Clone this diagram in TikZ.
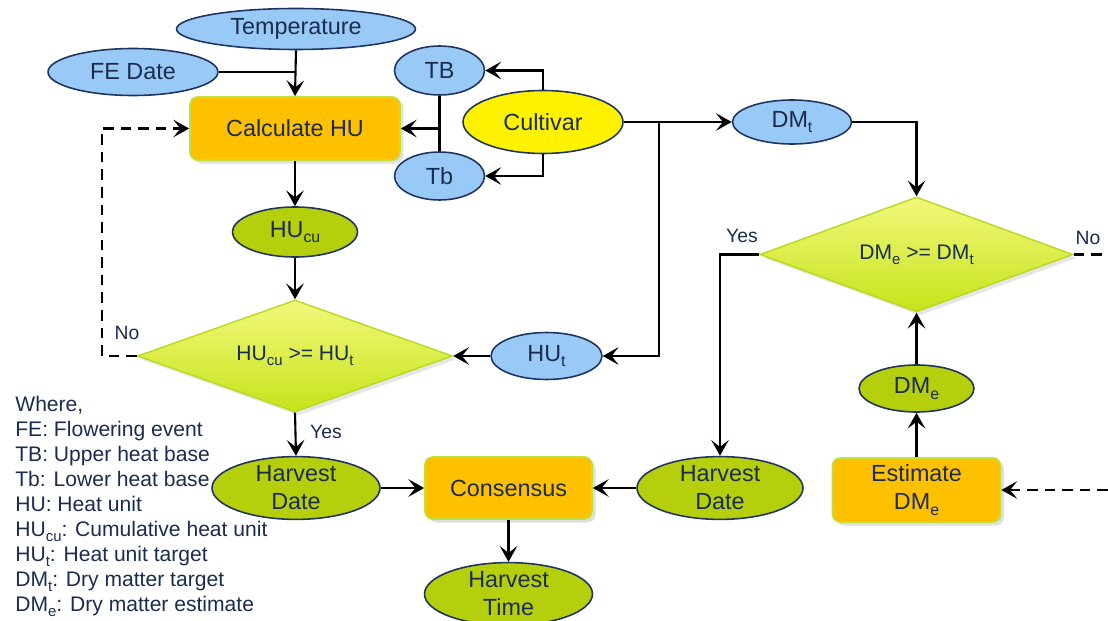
\documentclass[tikz,border=0pt]{standalone}
\usepackage{fontspec}
\setmainfont{Liberation Sans}
\usetikzlibrary{shapes.geometric,arrows.meta,shadows}
\definecolor{txt}{HTML}{1B2C4E}
\definecolor{bluefill}{HTML}{99C9F7}
\definecolor{navy}{HTML}{1F3560}
\definecolor{greenfill}{HTML}{B5CF0C}
\definecolor{orangefill}{HTML}{FFC000}
\definecolor{lgreen}{HTML}{C4DE3C}
\definecolor{dtop}{HTML}{F2F87C}
\definecolor{dbot}{HTML}{C6E31A}
\definecolor{dborder}{HTML}{B9D81E}
\newcommand{\lowsub}[1]{\raisebox{-0.45ex}{\fontsize{9}{9}\selectfont #1}}
\newcommand{\lowsubs}[1]{\raisebox{-0.45ex}{\fontsize{8.5}{9}\selectfont #1}}
\tikzset{
  base/.style={font=\fontsize{13.3}{16}\selectfont, text=txt, inner sep=0pt, align=center},
  blueell/.style={base, ellipse, draw=navy, line width=0.9pt, fill=bluefill},
  greenell/.style={base, ellipse, draw=navy, line width=0.9pt, fill=greenfill},
  yellowell/.style={base, ellipse, draw=navy, line width=0.9pt, fill=yellow},
  procbox/.style={base, rectangle, rounded corners=4.5pt, draw=lgreen, line width=1pt, fill=orangefill,
     drop shadow={shadow xshift=2pt, shadow yshift=-2pt, opacity=0.25}},
  decide/.style={base, font=\fontsize{12}{13}\selectfont, diamond, aspect=2.8, draw=dborder, line width=0.8pt, top color=dtop, bottom color=dbot,
     drop shadow={shadow xshift=2pt, shadow yshift=-2pt, opacity=0.2}},
  conn/.style={line width=1.2pt, black},
  arr/.style={conn, -{Stealth[length=9pt, width=10pt, inset=4pt]}},
  dashline/.style={line width=1.2pt, black, dash pattern=on 6pt off 4pt},
  lbl/.style={font=\fontsize{11}{12}\selectfont, text=txt, inner sep=0pt}
}
\begin{document}
\begin{tikzpicture}[x=0.02cm, y=-0.02cm]
\useasboundingbox (0,0) rectangle (1108,621);

% nodes
\node[blueell, minimum width=4.78cm, minimum height=0.82cm] (temp) at (296,29) {Temperature};
\node[blueell, minimum width=3.4cm, minimum height=0.94cm] (fe) at (133,72) {FE Date};
\node[procbox, minimum width=4.2cm, minimum height=1.26cm] (calc) at (295,128.5) {Calculate HU};
\node[blueell, minimum width=1.8cm, minimum height=0.98cm] (TB) at (439.5,70.5) {TB};
\node[blueell, minimum width=1.8cm, minimum height=0.96cm] (Tb) at (439.5,176) {Tb};
\node[yellowell, minimum width=3.2cm, minimum height=1.26cm] (cult) at (543,122) {Cultivar};
\node[blueell, minimum width=2.38cm, minimum height=0.88cm] (dmt) at (792,122) {DM\lowsub{t}};
\node[greenell, minimum width=2.5cm, minimum height=1.0cm] (hucu) at (295,232) {HU\lowsub{cu}};
\node[decide, minimum width=6.3cm, minimum height=2.24cm] (dhu) at (295,356) {HU\lowsubs{cu} >= HU\lowsubs{t}};
\node[blueell, minimum width=2.22cm, minimum height=0.94cm] (hut) at (546.5,356) {HU\lowsub{t}};
\node[decide, minimum width=6.26cm, minimum height=2.3cm] (ddm) at (916.5,254.5) {DM\lowsubs{e} >= DM\lowsubs{t}};
\node[greenell, minimum width=3.36cm, minimum height=1.22cm] (hd1) at (296,488) {Harvest\\Date};
\node[procbox, minimum width=3.34cm, minimum height=1.24cm] (cons) at (508.5,488) {Consensus};
\node[greenell, minimum width=3.32cm, minimum height=1.22cm] (hd2) at (720,488) {Harvest\\Date};
\node[procbox, minimum width=3.36cm, minimum height=1.28cm] (est) at (916.5,490) {Estimate\\DM\lowsub{e}};
\node[greenell, minimum width=2.3cm, minimum height=0.94cm] (dme) at (916.5,388.5) {DM\lowsub{e}};
\node[greenell, minimum width=3.36cm, minimum height=1.24cm] (ht) at (508.5,594) {Harvest\\Time};

% helper coordinates
\coordinate (j1) at (439.5,128.5);
\coordinate (j2) at (659,122);
\coordinate (noL) at (102,356);
\coordinate (noR) at (1108,254.5);
\coordinate (inR) at (1108,490);

% connectors
\draw[conn] (fe.east) -- (temp.south |- fe.east);
\draw[arr] (temp.south) -- (calc.north);
\draw[conn] (TB.south) -- (Tb.north);
\draw[arr] (j1) -- (calc.east);
\draw[arr] (cult.north) |- (TB.east);
\draw[arr] (cult.south) |- (Tb.east);
\draw[arr] (cult.east) -- (dmt.west);
\draw[arr] (j2) |- (hut.east);
\draw[arr] (dmt.east) -| (ddm.north);
\draw[arr] (calc.south) -- (hucu.north);
\draw[arr] (hucu.south) -- (dhu.north);
\draw[arr] (hut.west) -- (dhu.east);
\draw[dashline, -{Stealth[length=9pt, width=10pt, inset=4pt]}] (dhu.west) -- (noL) |- (calc.west);
\draw[arr] (dhu.south) -- (hd1.north);
\draw[arr] (hd1.east) -- (cons.west);
\draw[arr] (hd2.west) -- (cons.east);
\draw[arr] (cons.south) -- (ht.north);
\draw[arr] (ddm.west) -| (hd2.north);
\draw[dashline] (ddm.east) -- (noR);
\draw[arr] (est.north) -- (dme.south);
\draw[arr] (dme.north) -- (ddm.south);
\draw[dashline, -{Stealth[length=9pt, width=10pt, inset=4pt]}] (inR) -- (est.east);

% labels
\node[lbl] (lno1) at (127,333) {No};
\node[lbl] (lyes1) at (326,432) {Yes};
\node[lbl] (lyes2) at (742,236) {Yes};
\node[lbl] (lno2) at (1088,238) {No};

% legend
\node[anchor=north west, font=\fontsize{12}{14.2}\selectfont, text=txt, inner sep=0pt, align=left] (legend) at (15,396)
 {Where,\\
  FE: Flowering event\\
  TB: Upper heat base\\
  Tb: Lower heat base\\
  HU: Heat unit\\
  HU\lowsubs{cu}: Cumulative heat unit\\
  HU\lowsubs{t}: Heat unit target\\
  DM\lowsubs{t}: Dry matter target\\
  DM\lowsubs{e}: Dry matter estimate};
\end{tikzpicture}
\end{document}
